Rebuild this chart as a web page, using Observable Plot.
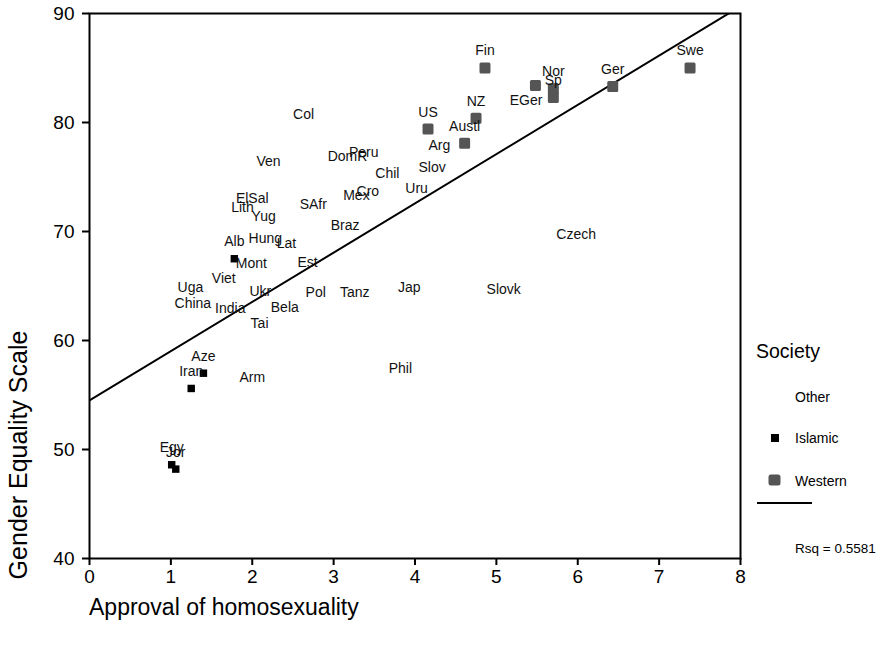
<!DOCTYPE html>
<html>
<head>
<meta charset="utf-8">
<script src="https://cdn.jsdelivr.net/npm/d3@7"></script>
<script src="https://cdn.jsdelivr.net/npm/@observablehq/plot@0.6"></script>
<style>
  html, body { margin: 0; padding: 0; background: #fff; }
  #chart svg { display: block; font-family: "Liberation Sans", Arial, Helvetica, sans-serif; }
</style>
</head>
<body>
<div id="chart"></div>
<script>
// ---- Data ----
const xTicks = [0, 1, 2, 3, 4, 5, 6, 7, 8];
const yTicks = [40, 50, 60, 70, 80, 90];

const otherNames = ["Col","Ven","DomR","Peru","Chil","Slov","Uru","Cro","Mex","ElSal","Lith","Yug","SAfr","Braz","Hung","Lat","Arg","Mont","Est","Viet","Uga","Ukr","Pol","Tanz","Jap","China","India","Bela","Tai","Arm","Phil","Czech","Slovk"];
const otherX = [2.63,2.20,3.17,3.37,3.66,4.21,4.02,3.42,3.28,2.00,1.88,2.14,2.75,3.14,2.16,2.42,4.30,1.99,2.68,1.65,1.24,2.10,2.78,3.26,3.93,1.27,1.73,2.40,2.09,2.00,3.82,5.98,5.09];
const otherY = [79.2,74.9,75.3,75.7,73.8,74.3,72.4,72.1,71.7,71.5,70.6,69.8,70.9,69.0,67.8,67.3,76.3,65.5,65.6,64.1,63.3,62.9,62.8,62.8,63.3,61.8,61.4,61.5,60.0,55.0,55.9,68.2,63.1];

const islamicNames = ["Alb","Aze","Iran","Egy","Jor"];
const islamicX = [1.78,1.40,1.25,1.01,1.06];
const islamicY = [67.5,57.0,55.6,48.6,48.2];

const westernNames = ["Fin","Swe","Ger","Nor","Sp","EGer","NZ","US","Austl"];
const westernX = [4.86,7.38,6.43,5.70,5.70,5.48,4.75,4.16,4.61];
const westernY = [85.0,85.0,83.3,83.1,82.3,83.4,80.4,79.4,78.1];

const labelsBelow = ["EGer"];

const fitIntercept = 54.5;
const fitSlope = 4.52;
const rsq = 0.5581;

// ---- Tables ----
const build = (names, xs, ys, society) => names.map((n, i) => ({name: n, x: xs[i], y: ys[i], society}));
const other = build(otherNames, otherX, otherY, "Other");
const islamic = build(islamicNames, islamicX, islamicY, "Islamic");
const western = build(westernNames, westernX, westernY, "Western");
const all = [...other, ...islamic, ...western];
const fitLine = [xTicks[0], xTicks[xTicks.length - 1]].map(x => ({x, y: fitIntercept + fitSlope * x}));

const font = '"Liberation Sans", Arial, Helvetica, sans-serif';
const W = 882, H = 656;
const mL = 89, mR = 142, mT = 13, mB = 98;

const chart = Plot.plot({
  width: W,
  height: H,
  marginLeft: mL,
  marginRight: mR,
  marginTop: mT,
  marginBottom: mB,
  style: {fontFamily: font, color: "#000", background: "#fff"},
  x: {domain: [0, 8]},
  y: {domain: [40, 90]},
  marks: [
    Plot.axisX({ticks: xTicks, tickSize: 7, tickPadding: 4, fontSize: 19, label: null, strokeWidth: 2, tickFormat: d => String(d)}),
    Plot.axisY({ticks: yTicks, tickSize: 7, tickPadding: 8, fontSize: 19, label: null, strokeWidth: 2, tickFormat: d => String(d)}),
    Plot.line(fitLine, {x: "x", y: "y", stroke: "#000", strokeWidth: 2, clip: true}),
    Plot.dot(islamic, {x: "x", y: "y", symbol: "square", r: 4.2, fill: "#000", stroke: "none"}),
    Plot.dot(western, {x: "x", y: "y", symbol: "square", r: 4.5, fill: "#555", stroke: "#555", strokeWidth: 3, strokeLinejoin: "round"}),
    Plot.text(all.filter(d => !labelsBelow.includes(d.name)), {x: "x", y: "y", text: "name", dy: -17, fontSize: 14, fill: "#111"}),
    Plot.text(all.filter(d => labelsBelow.includes(d.name)), {x: "x", y: "y", text: "name", dy: 15, dx: 7, textAnchor: "end", fontSize: 14, fill: "#111"}),
    Plot.frame({stroke: "#000", strokeWidth: 2})
  ]
});

document.getElementById("chart").appendChild(chart);

// ---- Titles & legend ----
const svg = d3.select(chart);
const g = svg.append("g").attr("font-family", font).attr("fill", "#000").attr("text-anchor", "start");

g.append("text")
  .attr("x", mL).attr("y", 609)
  .attr("text-anchor", "start")
  .attr("dominant-baseline", "middle")
  .attr("font-size", 23)
  .text("Approval of homosexuality");

g.append("text")
  .attr("transform", "translate(20,455) rotate(-90)")
  .attr("text-anchor", "middle")
  .attr("dominant-baseline", "middle")
  .attr("font-size", 25)
  .text("Gender Equality Scale");

const legendText = (x, y, size, txt) => g.append("text")
  .attr("x", x).attr("y", y)
  .attr("text-anchor", "start")
  .attr("dominant-baseline", "middle")
  .attr("font-size", size)
  .text(txt);

legendText(756, 353, 19.5, "Society");
legendText(795, 398, 14, "Other");
g.append("rect").attr("x", 771).attr("y", 434).attr("width", 8).attr("height", 8).attr("fill", "#000");
legendText(795, 439, 14, "Islamic");
g.append("rect").attr("x", 768.5).attr("y", 474.5).attr("width", 12).attr("height", 11).attr("rx", 2.5).attr("fill", "#555");
legendText(795, 482, 14, "Western");
g.append("line").attr("x1", 757).attr("x2", 812).attr("y1", 503).attr("y2", 503).attr("stroke", "#000").attr("stroke-width", 2);
legendText(795, 549, 13.5, "Rsq = " + rsq.toFixed(4));
</script>
</body>
</html>
